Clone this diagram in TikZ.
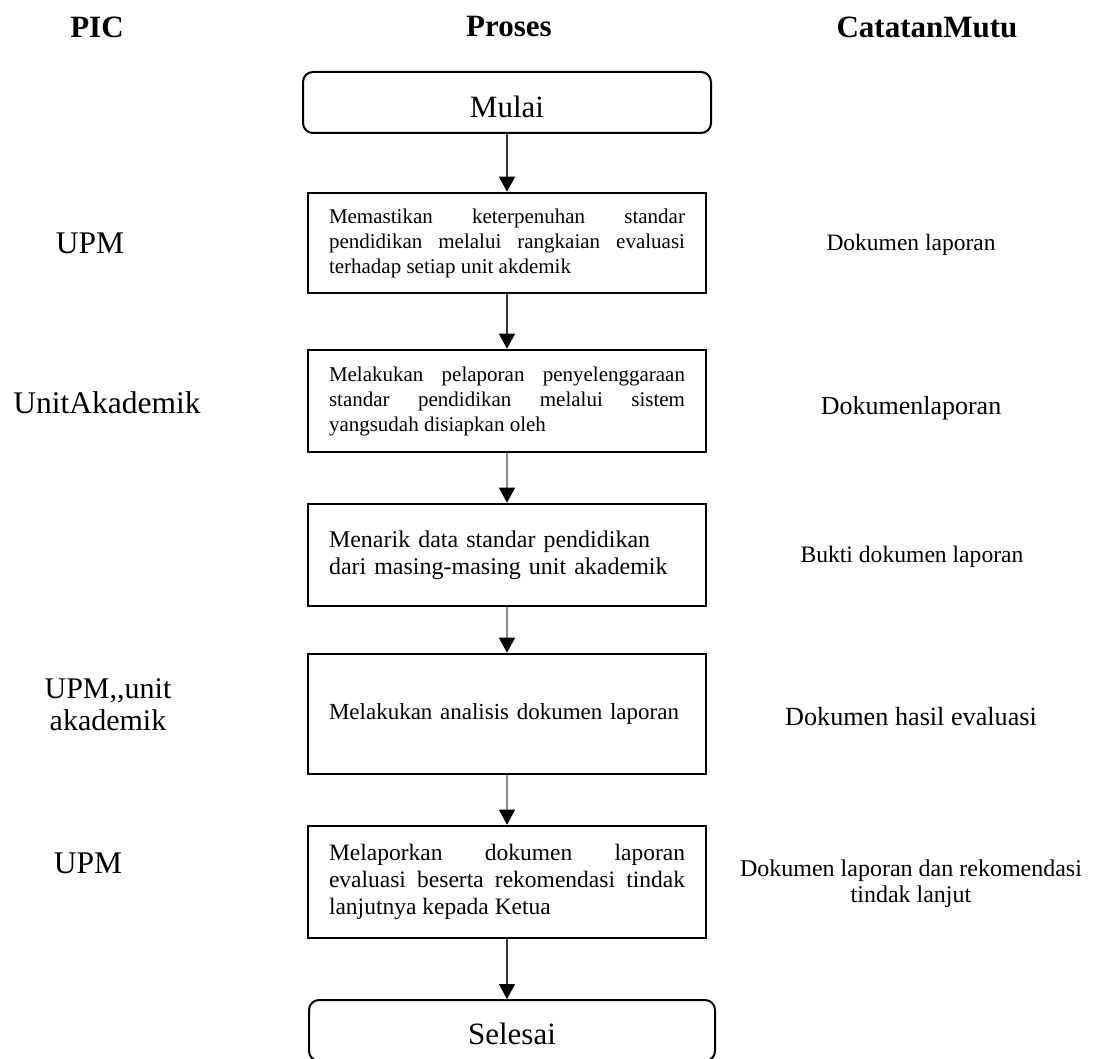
\documentclass[tikz,border=0pt]{standalone}
\usepackage{fontspec}
\setmainfont{Liberation Serif}
\usetikzlibrary{arrows.meta}
\hyphenpenalty=10000
\exhyphenpenalty=10000
\tolerance=9999
\begin{document}
\begin{tikzpicture}[x=1pt,y=-1pt,
  colhead/.style={font=\fontsize{31}{36}\selectfont\bfseries, inner sep=0pt},
  picname/.style={font=\fontsize{31.5}{34}\selectfont, align=center, inner sep=0pt},
  record/.style={align=center, inner sep=0pt},
  terminal/.style={draw, line width=2pt, rounded corners=10pt, minimum width=408pt,
    minimum height=61pt, inner sep=0pt, font=\fontsize{31}{36}\selectfont},
  procbox/.style={draw, line width=2.6pt, minimum width=398pt, inner xsep=21pt,
    inner ysep=0pt, text width=356pt, align=justify},
  flowdark/.style={draw=black!80, line width=1.4pt, -{Triangle[length=15pt,width=16pt,color=black]}},
  flowgrey/.style={draw=black!45, line width=1.4pt, -{Triangle[length=15pt,width=16pt,color=black]}},
]
\useasboundingbox (0,0) rectangle (1094,1059);
\clip (0,0) rectangle (1094,1059);

% column headings
\node[colhead] (hpic) at (97,27) {PIC};
\node[colhead] (hproses) at (509,27) {Proses};
\node[colhead] (hmutu) at (927,27) {CatatanMutu};

% process column
\node[terminal] (mulai) at (507,102.5) {\raisebox{-4pt}[\height][\depth]{Mulai}};

\node[procbox, minimum height=100pt, font=\fontsize{21}{25}\selectfont] (p1) at (507,243)
  {Memastikan keterpenuhan standar\linebreak pendidikan melalui rangkaian evaluasi\linebreak terhadap setiap unit akdemik};

\node[procbox, minimum height=102pt, font=\fontsize{21}{25}\selectfont] (p2) at (507,401)
  {Melakukan pelaporan penyelenggaraan\linebreak standar pendidikan melalui sistem\linebreak yangsudah disiapkan oleh};

\node[procbox, minimum height=102pt, align=left, font=\fontsize{24}{27}\selectfont] (p3) at (507,555)
  {Menarik data standar pendidikan\\dari masing-masing unit akademik};

\node[procbox, minimum height=120pt, align=left, font=\fontsize{23}{27}\selectfont] (p4) at (507,714)
  {Melakukan analisis dokumen laporan};

\node[procbox, minimum height=112pt, font=\fontsize{23.5}{27}\selectfont] (p5) at (507,882)
  {Melaporkan dokumen laporan\linebreak evaluasi beserta rekomendasi tindak\linebreak lanjutnya kepada Ketua};

\node[terminal, minimum width=406pt] (selesai) at (512,1030.5) {\raisebox{-3pt}[\height][\depth]{Selesai}};

% connectors
\draw[flowdark] (mulai.south) -- (p1.north);
\draw[flowdark] (p1.south) -- (p2.north);
\draw[flowgrey] (p2.south) -- (p3.north);
\draw[flowgrey] (p3.south) -- (p4.north);
\draw[flowgrey] (p4.south) -- (p5.north);
\draw[flowdark] (p5.south) -- (p5.south |- selesai.north);

% person in charge
\node[picname] (pic1) at (90,243) {UPM};
\node[picname] (pic2) at (107,403) {UnitAkademik};
\node[picname, font=\fontsize{30}{32}\selectfont] (pic4) at (108,705) {UPM,{},unit\\akademik};
\node[picname] (pic5) at (88,863) {UPM};

% quality records
\node[record, font=\fontsize{23.5}{27}\selectfont] (r1) at (911,245) {Dokumen laporan};
\node[record, font=\fontsize{26}{30}\selectfont] (r2) at (911,408) {Dokumenlaporan};
\node[record, font=\fontsize{23.6}{27}\selectfont] (r3) at (912,557) {Bukti dokumen laporan};
\node[record, font=\fontsize{26.2}{30}\selectfont] (r4) at (911,717) {Dokumen hasil evaluasi};
\node[record, font=\fontsize{24}{26}\selectfont] (r5) at (911,884) {Dokumen laporan dan rekomendasi\\tindak lanjut};
\end{tikzpicture}
\end{document}
